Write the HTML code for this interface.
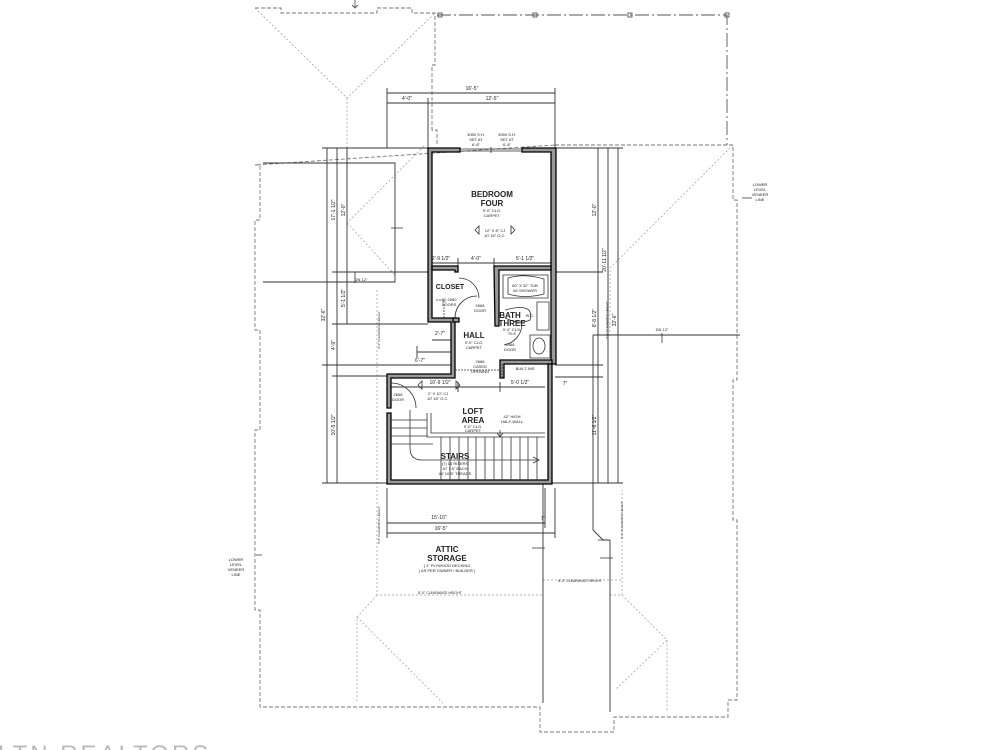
<!DOCTYPE html>
<html><head><meta charset="utf-8"><style>
html,body{margin:0;padding:0;background:#fff;overflow:hidden;}
svg{display:block;}
text{font-family:"Liberation Sans",sans-serif;fill:#222;}
</style></head><body>
<svg width="1000" height="750" viewBox="0 0 1000 750" xmlns="http://www.w3.org/2000/svg">
<g fill="none" stroke="#777" stroke-width="0.9" stroke-dasharray="4,2">
<path d="M255,8 H281 V13 H377 V8 H412 V13 H435 V65 H432 V130 H437 V145"/>
<path d="M555,145 H733 V200 H737 V380 H733 V520 H737 V700 H728 V717 H614 V732 H540 V707 H260 V610 H255 V430 H260 V330 H255 V220 H260 V165 H255 Z"/>
</g>
<g fill="none" stroke="#555" stroke-width="0.9">
<path d="M437,15 H727 V145" stroke-dasharray="14,3,2,3"/>
<rect x="438" y="13" width="4" height="4"/><rect x="533" y="13" width="4" height="4"/><rect x="628" y="13" width="4" height="4"/><rect x="725" y="13" width="4" height="4"/>
<path d="M355,0 V8 M352,5 L355,8 L358,5"/>
</g>
<g fill="none" stroke="#999" stroke-width="0.7" stroke-dasharray="2,2">
<path d="M255,8 L347,98 L435,13 M347,98 V223 L425,145 M347,223 L395,275"/>
<path d="M733,145 L610,268 V335"/>
<path d="M377,290 V595 H543 M610,595 H622 V490 M377,595 L357,617 V703 M357,617 L443,703 M622,595 L667,640 V712 M667,640 L615,690"/>
<path d="M543,580 H622"/>
</g>
<g fill="none" stroke="#333" stroke-width="0.9">
<path d="M263,163 H395 V282 H263"/>
<path d="M543,480 V703 M610,540 V712 M593,335 V530 L603,540 H610"/>
<path d="M593,335 L600,335 H740"/>
<path d="M387,93 H555 M387,103 H555 M387,88 V148 M428,98 V148 M555,88 V148"/>
<path d="M387,523 H545 M387,533 H555 M387,488 V538 M545,488 V528 M555,488 V538"/>
<path d="M327,148 V483 M337,148 V483 M347,148 V324 M322,148 H428 M332,272 H428 M332,324 H428 M322,365 H455 M322,483 H387 M332,376 H387"/>
<path d="M598,148 V483 M608,148 V483 M618,148 V483 M555,148 H623 M555,272 H603 M555,365 H603 M548,483 H623 M555,377 H603"/>
<path d="M432,263 H551 M458,258 V268 M494,258 V268 M391,387 H545 M458,382 V392 M500,382 V392 M417,352 H455 M417,346 V358 M432,340 H455"/>
</g>
<g fill="#999" stroke="#000" stroke-width="1.3">
<path d="M428,148 H460 V152 H432 V318 H455 V378 H391 V408 H387 V374 H451 V322 H428 Z"/>
<path d="M522,148 H556 V364 H551 V152 H522 Z"/>
<path d="M432,266 H458 V272 H455 V270 H432 Z"/>
<path d="M453,318 H459 V322 H453 Z"/>
<path d="M494,266 H551 V270 H499 V326 H495 Z"/>
<path d="M500,360 H552 V364 H504 V378 H500 Z"/>
<path d="M548,364 H552 V484 H387 V413 H391 V480 H548 Z"/>
</g>
<g fill="none" stroke="#333" stroke-width="0.8"><path d="M460,149 H522 M460,151 H522 M491,147 V153"/></g>
<g fill="none" stroke="#333" stroke-width="0.8">
<path d="M427,413 V437 H545 M431,413 V433 H545"/>
<path d="M391,420 H427 M391,428 H427 M391,436 H427 M391,444 H433"/>
<path d="M441,437 V480 M450,437 V480 M459,437 V480 M468,437 V480 M476,437 V480 M485,437 V480 M494,437 V480 M502,437 V480 M511,437 V480 M520,437 V480 M528,437 V480 M537,437 V480"/>
<path d="M410,410 V448 Q410,460 422,460 H537"/>
<path d="M533,457 L539,460 L533,463"/>
<path d="M459,278 A20,20 0 0 1 479,298 M455,318 A22,22 0 0 1 477,296 M504,345 A22,22 0 0 0 522,325 M391,383 A25,25 0 0 1 416,408"/>
<path d="M503,275 H548 V298 H503 Z M508,278 Q525,273 544,279 V294 Q525,299 508,294 Z"/>
<path d="M537,302 H549 V330 H537 Z M505,310 Q535,302 530,320 Q520,325 505,318"/>
<path d="M530,335 H550 V358 H530 Z"/><ellipse cx="539" cy="346" rx="6" ry="8"/>
<path d="M436,300 H444 V318 M502,364 V378 M455,370 H500" stroke-dasharray="2,1"/>
<path d="M475,230 L479,226 V234 Z M515,230 L511,226 V234 Z M418,385 L422,381 V389 Z M460,385 L456,381 V389 Z"/>
<path d="M500,430 V437 M497,433 L500,437 L503,433"/>
</g>
<g stroke="#333" stroke-width="0.8" fill="none">
<path d="M391,228 H403 M355,272 V283 M662,333 V343 M742,198 H752 M256,555 H262 M598,540 H610 M532,548 H545 M600,558 H613"/>
</g>
<g text-anchor="middle">
<text x="492" y="197" font-size="8" font-weight="bold">BEDROOM</text>
<text x="492" y="206" font-size="8" font-weight="bold">FOUR</text>
<text x="492" y="212" font-size="4">9'-0" CLG.</text>
<text x="492" y="217" font-size="4">CARPET</text>
<text x="495" y="232" font-size="4">12" X 8" CJ</text>
<text x="495" y="237" font-size="4">AT 16" O.C.</text>
<text x="476" y="136" font-size="4">3050 S.H.</text><text x="476" y="141" font-size="4">SET AT</text><text x="476" y="146" font-size="4">6'-8"</text>
<text x="507" y="136" font-size="4">3050 S.H.</text><text x="507" y="141" font-size="4">SET AT</text><text x="507" y="146" font-size="4">6'-8"</text>
<text x="450" y="289" font-size="7" font-weight="bold">CLOSET</text>
<text x="449" y="301" font-size="4">(2) 2060</text><text x="449" y="306" font-size="4">DOORS</text>
<text x="480" y="307" font-size="4">2668</text><text x="480" y="312" font-size="4">DOOR</text>
<text x="474" y="338" font-size="8" font-weight="bold">HALL</text>
<text x="474" y="344" font-size="4">9'-0" CLG.</text><text x="474" y="349" font-size="4">CARPET</text>
<text x="510" y="318" font-size="8" font-weight="bold">BATH</text>
<text x="512" y="326" font-size="8" font-weight="bold">THREE</text>
<text x="512" y="331" font-size="4">9'-0" CLG.</text><text x="512" y="335" font-size="4">TILE</text>
<text x="525" y="287" font-size="4">60" X 32" TUB</text><text x="525" y="292" font-size="4">W/ SHOWER</text>
<text x="530" y="317" font-size="4">W.C.</text>
<text x="510" y="346" font-size="4">2468</text><text x="510" y="351" font-size="4">DOOR</text>
<text x="480" y="363" font-size="4">2668</text><text x="480" y="368" font-size="4">CASED</text><text x="480" y="373" font-size="4">OPENING</text>
<text x="525" y="370" font-size="4">BUILT-INS</text>
<text x="440" y="384" font-size="5">10'-9 1/2"</text>
<text x="520" y="384" font-size="5">5'-0 1/2"</text>
<text x="398" y="396" font-size="4">2668</text><text x="398" y="401" font-size="4">DOOR</text>
<text x="438" y="395" font-size="4">2" X 10" CJ</text><text x="438" y="400" font-size="4">AT 16" O.C.</text>
<text x="473" y="414" font-size="8" font-weight="bold">LOFT</text>
<text x="473" y="423" font-size="8" font-weight="bold">AREA</text>
<text x="473" y="428" font-size="4">9'-0" CLG.</text><text x="473" y="432" font-size="4">CARPET</text>
<text x="512" y="418" font-size="4">42" HIGH</text><text x="512" y="423" font-size="4">HALF-WALL</text>
<text x="455" y="459" font-size="8" font-weight="bold">STAIRS</text>
<text x="455" y="465" font-size="4">(7) 15 RISERS</text><text x="455" y="470" font-size="4">AT 7.6" EACH</text><text x="455" y="475" font-size="4">W/ 10.5" TREADS</text>
<text x="439" y="519" font-size="5">15'-10"</text>
<text x="441" y="530" font-size="5">16'-5"</text>
<text x="472" y="90" font-size="5">16'-5"</text>
<text x="407" y="100" font-size="5">4'-0"</text>
<text x="492" y="100" font-size="5">12'-5"</text>
<text x="441" y="260" font-size="5">2'-9 1/2"</text>
<text x="476" y="260" font-size="5">4'-0"</text>
<text x="525" y="260" font-size="5">5'-1 1/2"</text>
<text x="440" y="335" font-size="5">2'-7"</text>
<text x="420" y="362" font-size="5">6'-7"</text>
<text x="565" y="385" font-size="5">7"</text>
<text x="543" y="520" font-size="5">7"</text>
<text x="447" y="552" font-size="8" font-weight="bold">ATTIC</text>
<text x="447" y="561" font-size="8" font-weight="bold">STORAGE</text>
<text x="447" y="567" font-size="4">( 1" PLYWOOD DECKING</text>
<text x="447" y="572" font-size="4">( AS PER OWNER / BUILDER )</text>
<text x="440" y="594" font-size="3.5">8'-0" CLEARANCE HEIGHT</text>
<text x="580" y="582" font-size="3.5">8'-0" CLEARANCE HEIGHT</text>
<text x="361" y="281" font-size="4">DN 12"</text>
<text x="662" y="331" font-size="4">DN 12"</text>
<text x="760" y="186" font-size="4">LOWER</text><text x="760" y="191" font-size="4">LEVEL</text><text x="760" y="196" font-size="4">VENEER</text><text x="760" y="201" font-size="4">LINE</text>
<text x="236" y="561" font-size="4">LOWER</text><text x="236" y="566" font-size="4">LEVEL</text><text x="236" y="571" font-size="4">VENEER</text><text x="236" y="576" font-size="4">LINE</text>
</g>
<g font-size="5" text-anchor="middle">
<text transform="translate(325,315) rotate(-90)">32'-6"</text>
<text transform="translate(335,210) rotate(-90)">17'-1 1/2"</text>
<text transform="translate(335,345) rotate(-90)">4'-9"</text>
<text transform="translate(335,425) rotate(-90)">10'-5 1/2"</text>
<text transform="translate(345,210) rotate(-90)">12'-0"</text>
<text transform="translate(345,298) rotate(-90)">5'-1 1/2"</text>
<text transform="translate(596,210) rotate(-90)">12'-0"</text>
<text transform="translate(596,318) rotate(-90)">8'-8 1/2"</text>
<text transform="translate(596,425) rotate(-90)">11'-6 1/2"</text>
<text transform="translate(606,260) rotate(-90)">20'-11 1/2"</text>
<text transform="translate(616,320) rotate(-90)">32'-6"</text>
<text transform="translate(380,330) rotate(-90)" font-size="3">8'-0" CLEARANCE HEIGHT</text>
<text transform="translate(380,525) rotate(-90)" font-size="3">8'-0" CLEARANCE HEIGHT</text>
<text transform="translate(608,320) rotate(-90)" font-size="3">8'-0" CLEARANCE HEIGHT</text>
<text transform="translate(623,520) rotate(-90)" font-size="3">8'-0" CLEARANCE HEIGHT</text>
</g>
<text x="-2" y="762" font-size="24" letter-spacing="3" style="fill:#bbb">LTN REALTORS</text>
</svg>
</body></html>
